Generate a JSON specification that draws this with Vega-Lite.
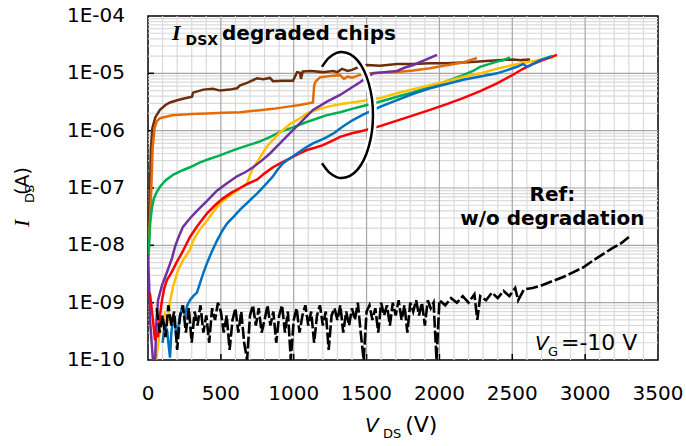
{
  "$schema": "https://vega.github.io/schema/vega-lite/v6.json",
  "width": 510,
  "height": 344,
  "autosize": {"type": "none"},
  "padding": {"left": 148, "top": 16, "right": 28, "bottom": 86},
  "background": "white",
  "config": {
    "view": {"stroke": "black", "strokeWidth": 1.5},
    "font": "DejaVu Sans"
  },
  "datasets": {
    "chips": [
      {"chip":"brown","V":0,"I":1e-8},{"chip":"brown","V":10,"I":5e-8},{"chip":"brown","V":15,"I":1.5e-7},{"chip":"brown","V":20,"I":5e-7},{"chip":"brown","V":30,"I":1.1e-6},{"chip":"brown","V":50,"I":1.7e-6},{"chip":"brown","V":82,"I":2.3e-6},{"chip":"brown","V":120,"I":2.8e-6},{"chip":"brown","V":151,"I":3.1e-6},{"chip":"brown","V":200,"I":3.4e-6},{"chip":"brown","V":240,"I":3.6e-6},{"chip":"brown","V":302,"I":3.9e-6},{"chip":"brown","V":309,"I":4.6e-6},{"chip":"brown","V":380,"I":5.2e-6},{"chip":"brown","V":446,"I":5.4e-6},{"chip":"brown","V":494,"I":5e-6},{"chip":"brown","V":560,"I":5.2e-6},{"chip":"brown","V":611,"I":5.5e-6},{"chip":"brown","V":632,"I":6.2e-6},{"chip":"brown","V":680,"I":6.8e-6},{"chip":"brown","V":721,"I":7.6e-6},{"chip":"brown","V":748,"I":8.2e-6},{"chip":"brown","V":790,"I":7.9e-6},{"chip":"brown","V":837,"I":8.3e-6},{"chip":"brown","V":858,"I":7.3e-6},{"chip":"brown","V":920,"I":7.4e-6},{"chip":"brown","V":995,"I":7.4e-6},{"chip":"brown","V":1023,"I":1.05e-5},{"chip":"brown","V":1043,"I":1.02e-5},{"chip":"brown","V":1050,"I":8e-6},{"chip":"brown","V":1062,"I":1.08e-5},{"chip":"brown","V":1120,"I":1.1e-5},{"chip":"brown","V":1200,"I":1.05e-5},{"chip":"brown","V":1270,"I":1.1e-5},{"chip":"brown","V":1300,"I":1.05e-5},{"chip":"brown","V":1332,"I":1.2e-5},{"chip":"brown","V":1370,"I":1.1e-5},{"chip":"brown","V":1400,"I":1.15e-5},{"chip":"brown","V":1450,"I":1.3e-5},{"chip":"brown","V":1503,"I":1.4e-5},{"chip":"brown","V":1592,"I":1.35e-5},{"chip":"brown","V":1709,"I":1.45e-5},{"chip":"brown","V":1820,"I":1.45e-5},{"chip":"brown","V":1935,"I":1.5e-5},{"chip":"brown","V":2050,"I":1.5e-5},{"chip":"brown","V":2162,"I":1.55e-5},{"chip":"brown","V":2250,"I":1.6e-5},{"chip":"brown","V":2347,"I":1.65e-5},{"chip":"brown","V":2430,"I":1.7e-5},{"chip":"brown","V":2505,"I":1.75e-5},{"chip":"brown","V":2560,"I":1.7e-5},{"chip":"brown","V":2622,"I":1.75e-5},
      {"chip":"orange","V":0,"I":8e-9},{"chip":"orange","V":15,"I":3e-8},{"chip":"orange","V":25,"I":1.5e-7},{"chip":"orange","V":32,"I":5e-7},{"chip":"orange","V":45,"I":1.1e-6},{"chip":"orange","V":60,"I":1.45e-6},{"chip":"orange","V":82,"I":1.65e-6},{"chip":"orange","V":165,"I":1.85e-6},{"chip":"orange","V":300,"I":1.95e-6},{"chip":"orange","V":405,"I":2e-6},{"chip":"orange","V":520,"I":2.05e-6},{"chip":"orange","V":632,"I":2.1e-6},{"chip":"orange","V":750,"I":2.25e-6},{"chip":"orange","V":858,"I":2.4e-6},{"chip":"orange","V":950,"I":2.6e-6},{"chip":"orange","V":1043,"I":2.8e-6},{"chip":"orange","V":1132,"I":3.1e-6},{"chip":"orange","V":1140,"I":6e-6},{"chip":"orange","V":1150,"I":7.2e-6},{"chip":"orange","V":1180,"I":8.5e-6},{"chip":"orange","V":1250,"I":9e-6},{"chip":"orange","V":1318,"I":9.3e-6},{"chip":"orange","V":1345,"I":8e-6},{"chip":"orange","V":1370,"I":8.8e-6},{"chip":"orange","V":1400,"I":8.4e-6},{"chip":"orange","V":1460,"I":9.5e-6},{"chip":"orange","V":1523,"I":1e-5},{"chip":"orange","V":1620,"I":1.02e-5},{"chip":"orange","V":1709,"I":1.05e-5},{"chip":"orange","V":1820,"I":1.12e-5},{"chip":"orange","V":1935,"I":1.23e-5},{"chip":"orange","V":2050,"I":1.38e-5},{"chip":"orange","V":2162,"I":1.55e-5},{"chip":"orange","V":2258,"I":1.85e-5},
      {"chip":"green","V":0,"I":5e-9},{"chip":"green","V":8,"I":1e-8},{"chip":"green","V":15,"I":2.5e-8},{"chip":"green","V":27,"I":4.5e-8},{"chip":"green","V":40,"I":6.5e-8},{"chip":"green","V":60,"I":8.5e-8},{"chip":"green","V":82,"I":1.05e-7},{"chip":"green","V":120,"I":1.35e-7},{"chip":"green","V":172,"I":1.7e-7},{"chip":"green","V":230,"I":2e-7},{"chip":"green","V":288,"I":2.3e-7},{"chip":"green","V":357,"I":2.8e-7},{"chip":"green","V":420,"I":3.2e-7},{"chip":"green","V":494,"I":3.7e-7},{"chip":"green","V":560,"I":4.3e-7},{"chip":"green","V":632,"I":5e-7},{"chip":"green","V":700,"I":5.7e-7},{"chip":"green","V":769,"I":6.5e-7},{"chip":"green","V":840,"I":7.8e-7},{"chip":"green","V":906,"I":9.5e-7},{"chip":"green","V":1000,"I":1.15e-6},{"chip":"green","V":1085,"I":1.4e-6},{"chip":"green","V":1150,"I":1.6e-6},{"chip":"green","V":1222,"I":1.85e-6},{"chip":"green","V":1318,"I":2.1e-6},{"chip":"green","V":1400,"I":2.4e-6},{"chip":"green","V":1476,"I":2.7e-6},{"chip":"green","V":1571,"I":3.1e-6},{"chip":"green","V":1709,"I":3.9e-6},{"chip":"green","V":1820,"I":4.7e-6},{"chip":"green","V":1935,"I":5.8e-6},{"chip":"green","V":2050,"I":7.3e-6},{"chip":"green","V":2162,"I":9.3e-6},{"chip":"green","V":2230,"I":1.1e-5},{"chip":"green","V":2278,"I":1.3e-5},{"chip":"green","V":2340,"I":1.45e-5},{"chip":"green","V":2395,"I":1.6e-5},{"chip":"green","V":2440,"I":1.7e-5},{"chip":"green","V":2484,"I":1.9e-5},
      {"chip":"yellow","V":40,"I":5e-11},{"chip":"yellow","V":62,"I":1.3e-10},{"chip":"yellow","V":82,"I":3.4e-10},{"chip":"yellow","V":100,"I":5e-10},{"chip":"yellow","V":117,"I":6.5e-10},{"chip":"yellow","V":135,"I":5e-10},{"chip":"yellow","V":151,"I":1.05e-9},{"chip":"yellow","V":172,"I":1.9e-9},{"chip":"yellow","V":206,"I":3.7e-9},{"chip":"yellow","V":240,"I":5.5e-9},{"chip":"yellow","V":288,"I":8.3e-9},{"chip":"yellow","V":309,"I":1.2e-8},{"chip":"yellow","V":350,"I":1.8e-8},{"chip":"yellow","V":405,"I":2.7e-8},{"chip":"yellow","V":450,"I":3.9e-8},{"chip":"yellow","V":494,"I":5.4e-8},{"chip":"yellow","V":540,"I":6.7e-8},{"chip":"yellow","V":583,"I":8e-8},{"chip":"yellow","V":630,"I":9.8e-8},{"chip":"yellow","V":680,"I":1.2e-7},{"chip":"yellow","V":700,"I":1.7e-7},{"chip":"yellow","V":720,"I":2.2e-7},{"chip":"yellow","V":748,"I":2.8e-7},{"chip":"yellow","V":780,"I":3.8e-7},{"chip":"yellow","V":816,"I":5.3e-7},{"chip":"yellow","V":860,"I":7e-7},{"chip":"yellow","V":906,"I":9.3e-7},{"chip":"yellow","V":975,"I":1.3e-6},{"chip":"yellow","V":1043,"I":1.65e-6},{"chip":"yellow","V":1091,"I":2e-6},{"chip":"yellow","V":1160,"I":2.3e-6},{"chip":"yellow","V":1228,"I":2.6e-6},{"chip":"yellow","V":1318,"I":2.9e-6},{"chip":"yellow","V":1400,"I":3.1e-6},{"chip":"yellow","V":1503,"I":3.4e-6},{"chip":"yellow","V":1592,"I":3.7e-6},{"chip":"yellow","V":1709,"I":4.5e-6},{"chip":"yellow","V":1820,"I":5.3e-6},{"chip":"yellow","V":1935,"I":6.2e-6},{"chip":"yellow","V":2050,"I":7.3e-6},{"chip":"yellow","V":2162,"I":8.6e-6},{"chip":"yellow","V":2280,"I":1e-5},{"chip":"yellow","V":2395,"I":1.2e-5},{"chip":"yellow","V":2505,"I":1.4e-5},{"chip":"yellow","V":2622,"I":1.6e-5},{"chip":"yellow","V":2700,"I":1.75e-5},{"chip":"yellow","V":2780,"I":1.9e-5},
      {"chip":"purple","V":0,"I":7e-9},{"chip":"purple","V":8,"I":2e-9},{"chip":"purple","V":14,"I":5e-10},{"chip":"purple","V":25,"I":2e-10},{"chip":"purple","V":34,"I":1e-10},{"chip":"purple","V":45,"I":5e-11},{"chip":"purple","V":58,"I":5e-10},{"chip":"purple","V":69,"I":1.1e-9},{"chip":"purple","V":96,"I":2e-9},{"chip":"purple","V":130,"I":3.4e-9},{"chip":"purple","V":165,"I":6e-9},{"chip":"purple","V":185,"I":9.4e-9},{"chip":"purple","V":210,"I":1.4e-8},{"chip":"purple","V":240,"I":2.1e-8},{"chip":"purple","V":290,"I":3e-8},{"chip":"purple","V":336,"I":4e-8},{"chip":"purple","V":400,"I":5.8e-8},{"chip":"purple","V":473,"I":9e-8},{"chip":"purple","V":540,"I":1.2e-7},{"chip":"purple","V":611,"I":1.6e-7},{"chip":"purple","V":670,"I":1.9e-7},{"chip":"purple","V":721,"I":2.3e-7},{"chip":"purple","V":780,"I":3e-7},{"chip":"purple","V":837,"I":4e-7},{"chip":"purple","V":900,"I":5.8e-7},{"chip":"purple","V":954,"I":8e-7},{"chip":"purple","V":1000,"I":1.05e-6},{"chip":"purple","V":1043,"I":1.35e-6},{"chip":"purple","V":1090,"I":1.8e-6},{"chip":"purple","V":1132,"I":2.3e-6},{"chip":"purple","V":1180,"I":2.7e-6},{"chip":"purple","V":1228,"I":3.2e-6},{"chip":"purple","V":1318,"I":4.2e-6},{"chip":"purple","V":1390,"I":5.5e-6},{"chip":"purple","V":1455,"I":7e-6},{"chip":"purple","V":1500,"I":8.5e-6},{"chip":"purple","V":1544,"I":1e-5},{"chip":"purple","V":1620,"I":1.05e-5},{"chip":"purple","V":1709,"I":1.1e-5},{"chip":"purple","V":1760,"I":1.25e-5},{"chip":"purple","V":1819,"I":1.4e-5},{"chip":"purple","V":1900,"I":1.7e-5},{"chip":"purple","V":1983,"I":2.1e-5},
      {"chip":"red","V":5,"I":1.5e-9},{"chip":"red","V":14,"I":1.4e-9},{"chip":"red","V":25,"I":8e-10},{"chip":"red","V":34,"I":5e-10},{"chip":"red","V":48,"I":2.2e-10},{"chip":"red","V":60,"I":3e-10},{"chip":"red","V":69,"I":2.5e-10},{"chip":"red","V":82,"I":6e-10},{"chip":"red","V":96,"I":1.1e-9},{"chip":"red","V":112,"I":1.8e-9},{"chip":"red","V":130,"I":2.5e-9},{"chip":"red","V":150,"I":3e-9},{"chip":"red","V":172,"I":3.8e-9},{"chip":"red","V":195,"I":5e-9},{"chip":"red","V":220,"I":6.4e-9},{"chip":"red","V":250,"I":9e-9},{"chip":"red","V":288,"I":1.4e-8},{"chip":"red","V":340,"I":2.2e-8},{"chip":"red","V":405,"I":3.6e-8},{"chip":"red","V":460,"I":5e-8},{"chip":"red","V":515,"I":6.6e-8},{"chip":"red","V":570,"I":8.2e-8},{"chip":"red","V":632,"I":1e-7},{"chip":"red","V":690,"I":1.2e-7},{"chip":"red","V":748,"I":1.4e-7},{"chip":"red","V":800,"I":1.8e-7},{"chip":"red","V":858,"I":2.3e-7},{"chip":"red","V":920,"I":2.8e-7},{"chip":"red","V":975,"I":3.3e-7},{"chip":"red","V":1030,"I":3.9e-7},{"chip":"red","V":1091,"I":4.6e-7},{"chip":"red","V":1150,"I":5.1e-7},{"chip":"red","V":1200,"I":5.6e-7},{"chip":"red","V":1260,"I":6.6e-7},{"chip":"red","V":1318,"I":7.8e-7},{"chip":"red","V":1400,"I":9e-7},{"chip":"red","V":1476,"I":1e-6},{"chip":"red","V":1592,"I":1.2e-6},{"chip":"red","V":1709,"I":1.5e-6},{"chip":"red","V":1820,"I":1.85e-6},{"chip":"red","V":1935,"I":2.3e-6},{"chip":"red","V":2050,"I":2.9e-6},{"chip":"red","V":2162,"I":3.7e-6},{"chip":"red","V":2280,"I":4.9e-6},{"chip":"red","V":2395,"I":6.7e-6},{"chip":"red","V":2490,"I":9e-6},{"chip":"red","V":2574,"I":1.2e-5},{"chip":"red","V":2640,"I":1.45e-5},{"chip":"red","V":2710,"I":1.7e-5},{"chip":"red","V":2760,"I":1.9e-5},{"chip":"red","V":2807,"I":2.1e-5},
      {"chip":"blue","V":100,"I":2e-10},{"chip":"blue","V":115,"I":4e-10},{"chip":"blue","V":130,"I":3.4e-10},{"chip":"blue","V":140,"I":2e-10},{"chip":"blue","V":151,"I":1.1e-10},{"chip":"blue","V":160,"I":3e-10},{"chip":"blue","V":172,"I":5e-10},{"chip":"blue","V":185,"I":4e-10},{"chip":"blue","V":199,"I":2.5e-10},{"chip":"blue","V":215,"I":5e-10},{"chip":"blue","V":233,"I":8e-10},{"chip":"blue","V":254,"I":6e-10},{"chip":"blue","V":270,"I":9e-10},{"chip":"blue","V":288,"I":1.1e-9},{"chip":"blue","V":310,"I":1.3e-9},{"chip":"blue","V":336,"I":1.5e-9},{"chip":"blue","V":357,"I":2.2e-9},{"chip":"blue","V":380,"I":3.3e-9},{"chip":"blue","V":405,"I":4.9e-9},{"chip":"blue","V":440,"I":8e-9},{"chip":"blue","V":473,"I":1.2e-8},{"chip":"blue","V":510,"I":1.8e-8},{"chip":"blue","V":542,"I":2.4e-8},{"chip":"blue","V":590,"I":3.2e-8},{"chip":"blue","V":632,"I":4.2e-8},{"chip":"blue","V":690,"I":5.8e-8},{"chip":"blue","V":748,"I":8e-8},{"chip":"blue","V":800,"I":1.1e-7},{"chip":"blue","V":858,"I":1.6e-7},{"chip":"blue","V":890,"I":2.1e-7},{"chip":"blue","V":927,"I":2.7e-7},{"chip":"blue","V":975,"I":3.3e-7},{"chip":"blue","V":1023,"I":4e-7},{"chip":"blue","V":1080,"I":5e-7},{"chip":"blue","V":1132,"I":6e-7},{"chip":"blue","V":1180,"I":6.8e-7},{"chip":"blue","V":1228,"I":7.7e-7},{"chip":"blue","V":1280,"I":9.2e-7},{"chip":"blue","V":1330,"I":1.15e-6},{"chip":"blue","V":1400,"I":1.5e-6},{"chip":"blue","V":1476,"I":1.9e-6},{"chip":"blue","V":1592,"I":2.6e-6},{"chip":"blue","V":1709,"I":3.4e-6},{"chip":"blue","V":1820,"I":4.4e-6},{"chip":"blue","V":1935,"I":5.5e-6},{"chip":"blue","V":2050,"I":6.5e-6},{"chip":"blue","V":2162,"I":7.7e-6},{"chip":"blue","V":2280,"I":8.8e-6},{"chip":"blue","V":2395,"I":1e-5},{"chip":"blue","V":2470,"I":1.15e-5},{"chip":"blue","V":2532,"I":1.3e-5},{"chip":"blue","V":2574,"I":1.45e-5},{"chip":"blue","V":2601,"I":1.3e-5},{"chip":"blue","V":2640,"I":1.45e-5},{"chip":"blue","V":2691,"I":1.7e-5},{"chip":"blue","V":2735,"I":1.85e-5},{"chip":"blue","V":2772,"I":2e-5}
    ],
    "ref": [
      {"V":60,"I":8e-10},{"V":80,"I":3e-10},{"V":100,"I":6e-10},{"V":120,"I":2.5e-10},{"V":140,"I":9e-10},{"V":160,"I":4e-10},{"V":180,"I":7e-10},{"V":200,"I":1.5e-10},{"V":220,"I":6e-10},{"V":240,"I":9e-10},{"V":260,"I":3e-10},{"V":280,"I":8e-10},{"V":300,"I":2e-10},{"V":320,"I":7e-10},{"V":340,"I":4e-10},{"V":360,"I":9e-10},{"V":380,"I":3e-10},{"V":400,"I":6e-10},{"V":420,"I":2e-10},{"V":440,"I":8e-10},{"V":460,"I":5e-10},{"V":480,"I":1e-9},{"V":500,"I":7e-10},{"V":520,"I":3e-10},{"V":540,"I":6e-10},{"V":560,"I":1.5e-10},{"V":580,"I":5e-10},{"V":600,"I":8e-10},{"V":620,"I":3e-10},{"V":640,"I":7e-10},{"V":660,"I":2e-10},{"V":680,"I":1e-10},{"V":700,"I":6e-10},{"V":720,"I":9e-10},{"V":740,"I":4e-10},{"V":760,"I":8e-10},{"V":780,"I":3e-10},{"V":800,"I":5e-10},{"V":820,"I":9e-10},{"V":840,"I":4e-10},{"V":860,"I":7e-10},{"V":880,"I":2e-10},{"V":900,"I":6e-10},{"V":920,"I":9e-10},{"V":940,"I":3e-10},{"V":960,"I":7e-10},{"V":980,"I":1e-10},{"V":1000,"I":5e-10},{"V":1020,"I":8e-10},{"V":1040,"I":3e-10},{"V":1060,"I":6e-10},{"V":1080,"I":9e-10},{"V":1100,"I":4e-10},{"V":1120,"I":7e-10},{"V":1140,"I":2e-10},{"V":1160,"I":6e-10},{"V":1180,"I":9e-10},{"V":1200,"I":4e-10},{"V":1220,"I":7e-10},{"V":1240,"I":1.5e-10},{"V":1260,"I":6e-10},{"V":1280,"I":8e-10},{"V":1300,"I":5e-10},{"V":1320,"I":9e-10},{"V":1340,"I":3e-10},{"V":1360,"I":7e-10},{"V":1380,"I":4e-10},{"V":1400,"I":8e-10},{"V":1420,"I":5e-10},{"V":1440,"I":1e-9},{"V":1460,"I":3e-10},{"V":1480,"I":1e-10},{"V":1500,"I":7e-10},{"V":1520,"I":9e-10},{"V":1540,"I":5e-10},{"V":1560,"I":8e-10},{"V":1580,"I":3e-10},{"V":1600,"I":1e-9},{"V":1620,"I":6e-10},{"V":1640,"I":9e-10},{"V":1660,"I":4e-10},{"V":1680,"I":1e-9},{"V":1700,"I":6e-10},{"V":1720,"I":1.1e-9},{"V":1740,"I":5e-10},{"V":1760,"I":9e-10},{"V":1780,"I":3e-10},{"V":1800,"I":1e-9},{"V":1820,"I":7e-10},{"V":1840,"I":1.1e-9},{"V":1860,"I":6e-10},{"V":1880,"I":1e-9},{"V":1900,"I":4e-10},{"V":1920,"I":1.1e-9},{"V":1940,"I":8e-10},{"V":1960,"I":1e-9},{"V":1980,"I":1e-10},{"V":2000,"I":1.1e-9},{"V":2040,"I":9e-10},{"V":2080,"I":1.2e-9},{"V":2120,"I":1e-9},{"V":2160,"I":1.3e-9},{"V":2200,"I":1e-9},{"V":2240,"I":1.4e-9},{"V":2260,"I":5e-10},{"V":2280,"I":1.3e-9},{"V":2320,"I":1.1e-9},{"V":2360,"I":1.5e-9},{"V":2400,"I":1.2e-9},{"V":2440,"I":1.6e-9},{"V":2480,"I":1.3e-9},{"V":2520,"I":1.8e-9},{"V":2540,"I":1.1e-9},{"V":2580,"I":1.7e-9},{"V":2640,"I":1.8e-9},{"V":2700,"I":2e-9},{"V":2760,"I":2.3e-9},{"V":2850,"I":2.8e-9},{"V":2920,"I":3.4e-9},{"V":2985,"I":4.1e-9},{"V":3080,"I":6e-9},{"V":3190,"I":9e-9},{"V":3250,"I":1.1e-8},{"V":3300,"I":1.4e-8}
    ],
    "ellipse": [
      {"k":0,"V":1194,"I":1.303e-5},{"k":1,"V":1241,"I":1.858e-5},{"k":2,"V":1294,"I":2.265e-5},{"k":3,"V":1331,"I":2.355e-5},{"k":4,"V":1386,"I":2.163e-5},{"k":5,"V":1438,"I":1.679e-5},{"k":6,"V":1482,"I":1.122e-5},{"k":7,"V":1515,"I":6.64e-6},{"k":8,"V":1537,"I":3.61e-6},{"k":9,"V":1544,"I":1.875e-6},{"k":10,"V":1537,"I":9.73e-7},{"k":11,"V":1515,"I":5.28e-7},{"k":12,"V":1482,"I":3.13e-7},{"k":13,"V":1438,"I":2.094e-7},{"k":14,"V":1386,"I":1.626e-7},{"k":15,"V":1331,"I":1.493e-7},{"k":16,"V":1294,"I":1.552e-7},{"k":17,"V":1241,"I":1.892e-7},{"k":18,"V":1194,"I":2.698e-7}
    ],
    "gridx": [
      {"V":100},{"V":200},{"V":300},{"V":400},{"V":600},{"V":700},{"V":800},{"V":900},{"V":1100},{"V":1200},{"V":1300},{"V":1400},{"V":1600},{"V":1700},{"V":1800},{"V":1900},{"V":2100},{"V":2200},{"V":2300},{"V":2400},{"V":2600},{"V":2700},{"V":2800},{"V":2900},{"V":3100},{"V":3200},{"V":3300},{"V":3400}
    ],
    "gridy": [
      {"I":2e-10},{"I":3e-10},{"I":4e-10},{"I":5e-10},{"I":6e-10},{"I":7e-10},{"I":8e-10},{"I":9e-10},{"I":2e-9},{"I":3e-9},{"I":4e-9},{"I":5e-9},{"I":6e-9},{"I":7e-9},{"I":8e-9},{"I":9e-9},{"I":2e-8},{"I":3e-8},{"I":4e-8},{"I":5e-8},{"I":6e-8},{"I":7e-8},{"I":8e-8},{"I":9e-8},{"I":2e-7},{"I":3e-7},{"I":4e-7},{"I":5e-7},{"I":6e-7},{"I":7e-7},{"I":8e-7},{"I":9e-7},{"I":2e-6},{"I":3e-6},{"I":4e-6},{"I":5e-6},{"I":6e-6},{"I":7e-6},{"I":8e-6},{"I":9e-6},{"I":2e-5},{"I":3e-5},{"I":4e-5},{"I":5e-5},{"I":6e-5},{"I":7e-5},{"I":8e-5},{"I":9e-5}
    ],
    "majx": [{"V":500},{"V":1000},{"V":1500},{"V":2000},{"V":2500},{"V":3000}],
    "majy": [{"I":1e-9},{"I":1e-8},{"I":1e-7},{"I":1e-6},{"I":1e-5}],
    "xlabels": [{"V":0},{"V":500},{"V":1000},{"V":1500},{"V":2000},{"V":2500},{"V":3000},{"V":3500}],
    "ylabels": [{"I":1e-10,"lab":"1E-10"},{"I":1e-9,"lab":"1E-09"},{"I":1e-8,"lab":"1E-08"},{"I":1e-7,"lab":"1E-07"},{"I":1e-6,"lab":"1E-06"},{"I":1e-5,"lab":"1E-05"},{"I":1e-4,"lab":"1E-04"}]
  },
  "layer": [
    {
      "data": {"name": "chips"},
      "mark": {"type": "line", "opacity": 0},
      "encoding": {
        "x": {"field": "V", "type": "quantitative", "axis": null, "scale": {"domain": [0, 3500], "nice": false, "zero": false}},
        "y": {"field": "I", "type": "quantitative", "axis": null, "scale": {"type": "log", "domain": [1e-10, 1e-4], "nice": false}},
        "detail": {"field": "chip"}
      }
    },
    {
      "data": {"name": "gridx"},
      "mark": {"type": "tick", "orient": "vertical", "size": 344, "thickness": 1.2, "color": "#DADADA", "opacity": 1},
      "encoding": {"x": {"field": "V", "type": "quantitative", "axis": null}, "y": {"datum": 1e-7, "type": "quantitative", "axis": null}}
    },
    {
      "data": {"name": "gridy"},
      "mark": {"type": "tick", "orient": "horizontal", "size": 510, "thickness": 1.2, "color": "#DADADA", "opacity": 1},
      "encoding": {"y": {"field": "I", "type": "quantitative", "axis": null}, "x": {"datum": 1750, "type": "quantitative", "axis": null}}
    },
    {
      "data": {"name": "majx"},
      "mark": {"type": "tick", "orient": "vertical", "size": 344, "thickness": 1.2, "color": "#A6A6A6", "opacity": 1},
      "encoding": {"x": {"field": "V", "type": "quantitative", "axis": null}, "y": {"datum": 1e-7, "type": "quantitative", "axis": null}}
    },
    {
      "data": {"name": "majy"},
      "mark": {"type": "tick", "orient": "horizontal", "size": 510, "thickness": 1.2, "color": "#A6A6A6", "opacity": 1},
      "encoding": {"y": {"field": "I", "type": "quantitative", "axis": null}, "x": {"datum": 1750, "type": "quantitative", "axis": null}}
    },
    {
      "data": {"name": "majx"},
      "mark": {"type": "tick", "orient": "vertical", "size": 12, "thickness": 1.5, "color": "black", "opacity": 1, "clip": true},
      "encoding": {"x": {"field": "V", "type": "quantitative", "axis": null}, "y": {"datum": 1e-10, "type": "quantitative", "axis": null}}
    },
    {
      "data": {"name": "majy"},
      "mark": {"type": "tick", "orient": "horizontal", "size": 12, "thickness": 1.5, "color": "black", "opacity": 1, "clip": true},
      "encoding": {"y": {"field": "I", "type": "quantitative", "axis": null}, "x": {"datum": 0, "type": "quantitative", "axis": null}}
    },
    {
      "data": {"name": "chips"},
      "mark": {"type": "line", "strokeWidth": 2.5, "clip": true},
      "encoding": {
        "x": {"field": "V", "type": "quantitative", "axis": null},
        "y": {"field": "I", "type": "quantitative", "axis": null},
        "color": {
          "field": "chip", "type": "nominal",
          "scale": {"domain": ["brown","orange","green","yellow","purple","blue","red"], "range": ["#6B2E0C","#E36C09","#00B050","#FFC000","#7030A0","#0070C0","#FF0000"]},
          "legend": null
        }
      }
    },
    {
      "data": {"name": "ref"},
      "mark": {"type": "line", "color": "black", "strokeWidth": 2.6, "strokeDash": [12, 3], "clip": true},
      "encoding": {
        "x": {"field": "V", "type": "quantitative", "axis": null},
        "y": {"field": "I", "type": "quantitative", "axis": null}
      }
    },
    {
      "data": {"name": "ellipse"},
      "mark": {"type": "line", "color": "white", "strokeWidth": 8, "interpolate": "cardinal"},
      "encoding": {
        "x": {"field": "V", "type": "quantitative", "axis": null},
        "y": {"field": "I", "type": "quantitative", "axis": null},
        "order": {"field": "k", "type": "quantitative"}
      }
    },
    {
      "data": {"name": "ellipse"},
      "mark": {"type": "line", "color": "black", "strokeWidth": 2.5, "interpolate": "cardinal"},
      "encoding": {
        "x": {"field": "V", "type": "quantitative", "axis": null},
        "y": {"field": "I", "type": "quantitative", "axis": null},
        "order": {"field": "k", "type": "quantitative"}
      }
    },
    {
      "data": {"name": "xlabels"},
      "mark": {"type": "text", "font": "DejaVu Sans", "fontSize": 20, "align": "center", "baseline": "top", "dy": 24, "color": "black"},
      "encoding": {"x": {"field": "V", "type": "quantitative", "axis": null}, "y": {"datum": 1e-10, "type": "quantitative", "axis": null}, "text": {"field": "V", "type": "quantitative", "format": "d"}}
    },
    {
      "data": {"name": "ylabels"},
      "mark": {"type": "text", "font": "DejaVu Sans", "fontSize": 20, "align": "right", "baseline": "middle", "dx": -23, "color": "black"},
      "encoding": {"y": {"field": "I", "type": "quantitative", "axis": null}, "x": {"datum": 0, "type": "quantitative", "axis": null}, "text": {"field": "lab"}}
    },
    {
      "data": {"values": [{"V": 165, "I": 3.8e-5, "t": "I"}]},
      "mark": {"type": "text", "font": "Liberation Serif", "fontSize": 22, "fontWeight": "bold", "fontStyle": "italic", "align": "left", "baseline": "alphabetic", "color": "black"},
      "encoding": {"x": {"field": "V", "type": "quantitative", "axis": null}, "y": {"field": "I", "type": "quantitative", "axis": null}, "text": {"field": "t"}}
    },
    {
      "data": {"values": [{"V": 258, "I": 3.1e-5, "t": "DSX"}]},
      "mark": {"type": "text", "font": "DejaVu Sans", "fontSize": 14, "fontWeight": "bold", "align": "left", "baseline": "alphabetic", "color": "black"},
      "encoding": {"x": {"field": "V", "type": "quantitative", "axis": null}, "y": {"field": "I", "type": "quantitative", "axis": null}, "text": {"field": "t"}}
    },
    {
      "data": {"values": [{"V": 508, "I": 3.8e-5, "t": "degraded chips"}]},
      "mark": {"type": "text", "font": "DejaVu Sans", "fontSize": 20, "fontWeight": "bold", "align": "left", "baseline": "alphabetic", "color": "black"},
      "encoding": {"x": {"field": "V", "type": "quantitative", "axis": null}, "y": {"field": "I", "type": "quantitative", "axis": null}, "text": {"field": "t"}}
    },
    {
      "data": {"values": [{"V": 2775, "I": 6e-8, "t": "Ref:"}, {"V": 2775, "I": 2.3e-8, "t": "w/o degradation"}]},
      "mark": {"type": "text", "font": "DejaVu Sans", "fontSize": 20, "fontWeight": "bold", "align": "center", "baseline": "alphabetic", "color": "black"},
      "encoding": {"x": {"field": "V", "type": "quantitative", "axis": null}, "y": {"field": "I", "type": "quantitative", "axis": null}, "text": {"field": "t"}}
    },
    {
      "data": {"values": [{"V": 2656, "I": 1.5e-10, "t": "V"}, {"V": 1489, "I": 5.5e-12, "t": "V"}]},
      "mark": {"type": "text", "font": "DejaVu Sans", "fontSize": 20, "fontStyle": "italic", "align": "left", "baseline": "alphabetic", "color": "black"},
      "encoding": {"x": {"field": "V", "type": "quantitative", "axis": null}, "y": {"field": "I", "type": "quantitative", "axis": null}, "text": {"field": "t"}}
    },
    {
      "data": {"values": [{"V": 2745, "I": 1.17e-10, "t": "G"}, {"V": 1613, "I": 4.4e-12, "t": "DS"}]},
      "mark": {"type": "text", "font": "DejaVu Sans", "fontSize": 13, "align": "left", "baseline": "alphabetic", "color": "black"},
      "encoding": {"x": {"field": "V", "type": "quantitative", "axis": null}, "y": {"field": "I", "type": "quantitative", "axis": null}, "text": {"field": "t"}}
    },
    {
      "data": {"values": [{"V": 2834, "I": 1.5e-10, "t": "=-10 V"}, {"V": 1765, "I": 5.5e-12, "t": "(V)"}]},
      "mark": {"type": "text", "font": "DejaVu Sans", "fontSize": 22, "align": "left", "baseline": "alphabetic", "color": "black"},
      "encoding": {"x": {"field": "V", "type": "quantitative", "axis": null}, "y": {"field": "I", "type": "quantitative", "axis": null}, "text": {"field": "t"}}
    },
    {
      "data": {"values": [{"V": -817, "I": 2.09e-8, "t": "I"}]},
      "mark": {"type": "text", "font": "Liberation Serif", "fontSize": 22, "fontStyle": "italic", "angle": 270, "align": "left", "baseline": "alphabetic", "color": "black"},
      "encoding": {"x": {"field": "V", "type": "quantitative", "axis": null}, "y": {"field": "I", "type": "quantitative", "axis": null}, "text": {"field": "t"}}
    },
    {
      "data": {"values": [{"V": -782, "I": 5.47e-8, "t": "DS"}]},
      "mark": {"type": "text", "font": "DejaVu Sans", "fontSize": 13, "angle": 270, "align": "left", "baseline": "alphabetic", "color": "black"},
      "encoding": {"x": {"field": "V", "type": "quantitative", "axis": null}, "y": {"field": "I", "type": "quantitative", "axis": null}, "text": {"field": "t"}}
    },
    {
      "data": {"values": [{"V": -817, "I": 7.55e-8, "t": "(A)"}]},
      "mark": {"type": "text", "font": "DejaVu Sans", "fontSize": 19, "angle": 270, "align": "left", "baseline": "alphabetic", "color": "black"},
      "encoding": {"x": {"field": "V", "type": "quantitative", "axis": null}, "y": {"field": "I", "type": "quantitative", "axis": null}, "text": {"field": "t"}}
    }
  ]
}
